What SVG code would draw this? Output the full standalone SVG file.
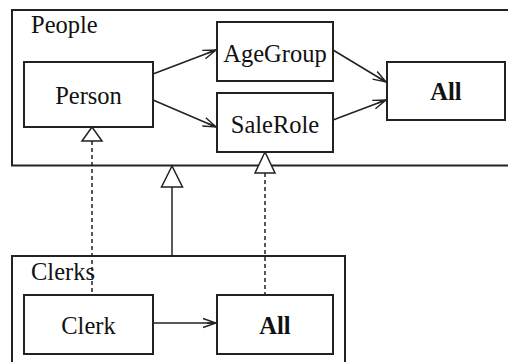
<svg xmlns="http://www.w3.org/2000/svg" width="508" height="362" viewBox="0 0 508 362">
<style>
.box{fill:#fff;stroke:#222;stroke-width:2}
.frame{fill:none;stroke:#222;stroke-width:2}
.t{font-family:"Liberation Serif","Times New Roman",serif;font-size:24.5px;fill:#111}
.b{font-weight:bold}
.c{text-anchor:middle}
.edge{fill:none;stroke:#222;stroke-width:1.5}
.dash{stroke-dasharray:4,3}
.tri{fill:#fff;stroke:#222;stroke-width:1.5}
</style>
<defs>
<marker id="arr" markerUnits="userSpaceOnUse" markerWidth="16" markerHeight="12" viewBox="-14 -6 16 12" refX="0" refY="0" orient="auto">
<path d="M-13,-4.5 L0,0 L-13,4.5 M-9,0 L0,0" fill="none" stroke="#222" stroke-width="1.4"/>
</marker>
</defs>
<g id="People">
<rect class="frame" x="12" y="10" width="510" height="155.5"/>
<text class="t" x="31" y="33">People</text>
</g>
<g id="Clerks">
<rect class="frame" x="12" y="256" width="333" height="130"/>
<text class="t" x="31" y="280">Clerks</text>
</g>
<g id="connectors">
<line class="edge" x1="153" y1="74" x2="216" y2="50" marker-end="url(#arr)"/>
<line class="edge" x1="153" y1="100" x2="216" y2="127" marker-end="url(#arr)"/>
<line class="edge" x1="333" y1="50" x2="386" y2="82" marker-end="url(#arr)"/>
<line class="edge" x1="333" y1="120" x2="386" y2="100" marker-end="url(#arr)"/>
<line class="edge" x1="153" y1="323" x2="216" y2="323" marker-end="url(#arr)"/>
<line class="edge dash" x1="92" y1="141" x2="92" y2="295"/>
<polygon class="tri" points="92,127 82,141 102,141"/>
<line class="edge" x1="172" y1="187" x2="172" y2="256"/>
<polygon class="tri" points="172,166 161.5,187 182.5,187"/>
<line class="edge dash" x1="265" y1="173" x2="265" y2="295"/>
<polygon class="tri" points="265,152 255,173 275,173"/>
</g>
<g id="Person">
<rect class="box" x="24" y="62" width="129" height="65"/>
<text class="t c" x="88.5" y="104">Person</text>
</g>
<g id="AgeGroup">
<rect class="box" x="217" y="22" width="116" height="59"/>
<text class="t c" x="275" y="62">AgeGroup</text>
</g>
<g id="SaleRole">
<rect class="box" x="217" y="93" width="116" height="59"/>
<text class="t c" x="275" y="133">SaleRole</text>
</g>
<g id="All">
<rect class="box" x="387" y="62" width="118" height="58"/>
<text class="t c b" x="446" y="100">All</text>
</g>
<g id="Clerk">
<rect class="box" x="24" y="295" width="129" height="59"/>
<text class="t c" x="88.5" y="334">Clerk</text>
</g>
<g id="ClerksAll">
<rect class="box" x="217" y="295" width="116" height="59"/>
<text class="t c b" x="275" y="334">All</text>
</g>
</svg>
